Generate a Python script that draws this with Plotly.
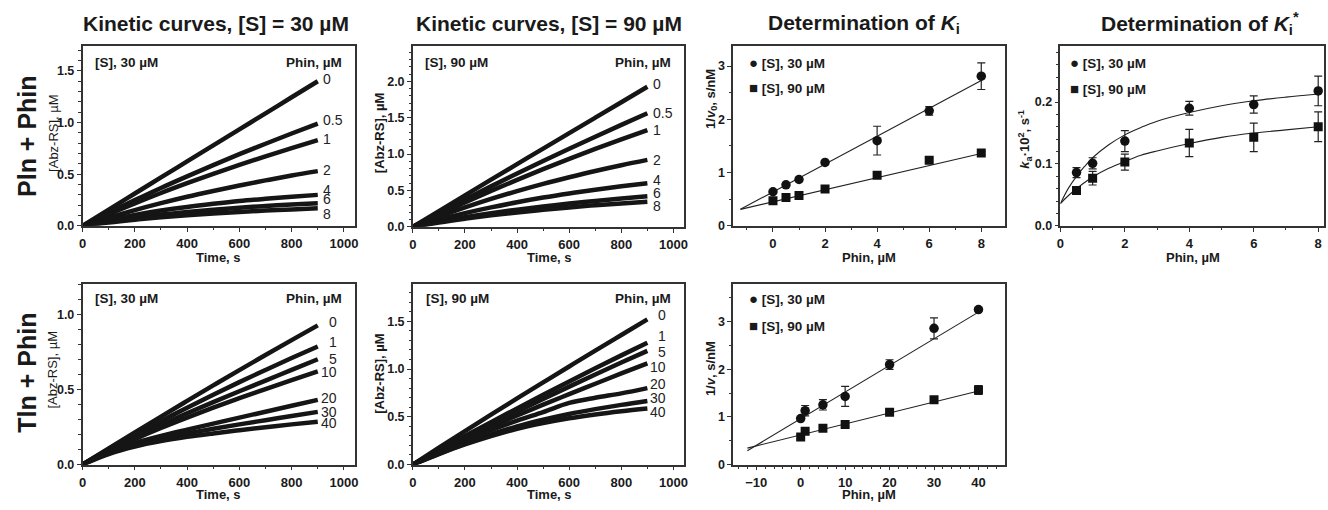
import plotly.graph_objects as go

W, H = 1328, 510
FONT = "Liberation Sans, Arial, sans-serif"

# ---------------- DATA ----------------
time_s = [0, 100, 200, 300, 400, 500, 600, 700, 800, 900]

# Pln + Phin, [S] = 30 uM
pln_phin = ["0", "0.5", "1", "2", "4", "6", "8"]
pln30_curves = [
    [0, 0.157, 0.313, 0.469, 0.624, 0.779, 0.934, 1.089, 1.245, 1.400],
    [0, 0.127, 0.249, 0.367, 0.479, 0.588, 0.694, 0.795, 0.894, 0.990],
    [0, 0.112, 0.217, 0.318, 0.413, 0.504, 0.590, 0.673, 0.753, 0.830],
    [0, 0.080, 0.153, 0.220, 0.282, 0.338, 0.391, 0.440, 0.487, 0.530],
    [0, 0.058, 0.106, 0.148, 0.183, 0.213, 0.240, 0.262, 0.282, 0.300],
    [0, 0.043, 0.078, 0.109, 0.135, 0.157, 0.176, 0.192, 0.207, 0.220],
    [0, 0.033, 0.060, 0.083, 0.103, 0.120, 0.135, 0.148, 0.159, 0.170],
]
# Pln + Phin, [S] = 90 uM
pln90_curves = [
    [0, 0.217, 0.433, 0.648, 0.862, 1.075, 1.288, 1.500, 1.712, 1.925],
    [0, 0.190, 0.375, 0.556, 0.732, 0.905, 1.074, 1.239, 1.401, 1.560],
    [0, 0.172, 0.336, 0.494, 0.646, 0.793, 0.934, 1.070, 1.202, 1.330],
    [0, 0.139, 0.266, 0.383, 0.491, 0.591, 0.682, 0.768, 0.847, 0.920],
    [0, 0.099, 0.188, 0.267, 0.338, 0.402, 0.459, 0.511, 0.557, 0.600],
    [0, 0.070, 0.132, 0.187, 0.236, 0.280, 0.320, 0.356, 0.389, 0.420],
    [0, 0.060, 0.112, 0.158, 0.198, 0.235, 0.267, 0.297, 0.322, 0.345],
]
# Tln + Phin
tln_phin = ["0", "1", "5", "10", "20", "30", "40"]
tln30_curves = [
    [0, 0.108, 0.214, 0.319, 0.423, 0.526, 0.628, 0.728, 0.827, 0.925],
    [0, 0.102, 0.198, 0.290, 0.378, 0.464, 0.548, 0.629, 0.708, 0.785],
    [0, 0.096, 0.183, 0.264, 0.341, 0.415, 0.487, 0.558, 0.629, 0.700],
    [0, 0.089, 0.169, 0.243, 0.312, 0.378, 0.441, 0.502, 0.562, 0.620],
    [0, 0.080, 0.142, 0.190, 0.232, 0.272, 0.312, 0.351, 0.391, 0.430],
    [0, 0.075, 0.130, 0.172, 0.207, 0.238, 0.267, 0.295, 0.323, 0.350],
    [0, 0.070, 0.120, 0.156, 0.184, 0.207, 0.228, 0.248, 0.267, 0.285],
]
tln90_curves = [
    [0, 0.176, 0.350, 0.522, 0.692, 0.860, 1.027, 1.193, 1.357, 1.520],
    [0, 0.150, 0.298, 0.444, 0.588, 0.730, 0.870, 1.008, 1.143, 1.276],
    [0, 0.145, 0.285, 0.422, 0.556, 0.687, 0.816, 0.943, 1.068, 1.190],
    [0, 0.138, 0.269, 0.394, 0.513, 0.627, 0.737, 0.846, 0.954, 1.060],
    [0, 0.125, 0.245, 0.360, 0.460, 0.550, 0.645, 0.700, 0.745, 0.800],
    [0, 0.115, 0.220, 0.315, 0.400, 0.470, 0.530, 0.580, 0.625, 0.666],
    [0, 0.110, 0.210, 0.298, 0.375, 0.435, 0.485, 0.525, 0.558, 0.586],
]

# Determination of Ki (Pln)
ki_phin = [0, 0.5, 1, 2, 4, 6, 8]
ki_inv_v0_30 = [0.64, 0.77, 0.87, 1.19, 1.60, 2.16, 2.81]
ki_err_30 = [0.02, 0.02, 0.02, 0.03, 0.27, 0.08, 0.25]
ki_inv_v0_90 = [0.47, 0.53, 0.57, 0.69, 0.95, 1.23, 1.37]
ki_err_90 = [0.02, 0.02, 0.02, 0.02, 0.03, 0.03, 0.03]
ki_fit_x = [-1.25, 8]
ki_fit_30 = [0.31, 2.73]
ki_fit_90 = [0.31, 1.36]

# Determination of Ki*
kst_phin = [0.5, 1, 2, 4, 6, 8]
ka_30 = [0.086, 0.101, 0.137, 0.190, 0.196, 0.218]
ka_err_30 = [0.008, 0.009, 0.017, 0.011, 0.014, 0.024]
ka_90 = [0.057, 0.077, 0.103, 0.134, 0.143, 0.160]
ka_err_90 = [0.003, 0.011, 0.013, 0.022, 0.023, 0.024]
ka_fit_x = [0, 0.25, 0.5, 0.75, 1, 1.5, 2, 2.5, 3, 4, 5, 6, 7, 8]
ka_fit_30 = [0.036, 0.061, 0.080, 0.096, 0.110, 0.131, 0.147, 0.159, 0.169, 0.183, 0.194, 0.202, 0.208, 0.213]
ka_fit_90 = [0.036, 0.049, 0.060, 0.070, 0.079, 0.093, 0.104, 0.114, 0.121, 0.133, 0.143, 0.150, 0.155, 0.160]

# Determination of Ki (Tln)
tv_phin = [0, 1, 5, 10, 20, 30, 40]
inv_v_30 = [0.966, 1.13, 1.255, 1.43, 2.10, 2.86, 3.255]
inv_v_err_30 = [0.03, 0.11, 0.11, 0.21, 0.10, 0.22, 0.03]
inv_v_90 = [0.58, 0.70, 0.76, 0.84, 1.10, 1.36, 1.565]
inv_v_err_90 = [0.05, 0.04, 0.03, 0.03, 0.03, 0.03, 0.09]
tv_fit_x = [-12, 40]
tv_fit_30 = [0.29, 3.20]
tv_fit_90 = [0.345, 1.545]

# ---------------- LAYOUT HELPERS ----------------
def pxx(x):
    return x / W

def pyy(y):
    return 1 - y / H

# panel boxes in pixels: (left, right, top, bottom)
boxes = {
    1: (79, 353, 47, 229),
    2: (411, 684, 47, 230),
    3: (733, 1006, 47, 229),
    4: (1062, 1327, 47, 229),
    5: (79, 353, 288, 471),
    6: (411, 684, 288, 471),
    7: (733, 1006, 288, 471),
}

LINEC = "#333333"


def axis(n, which, rng, dtick, minor, fmt=None):
    l, r, t, b = boxes[n]
    dom = [pxx(l), pxx(r)] if which == "x" else [pyy(b), pyy(t)]
    d = dict(
        domain=dom, range=rng, anchor=("y" if which == "x" else "x") + ("" if n == 1 else str(n)),
        showline=True, mirror=True, linecolor=LINEC, linewidth=1.5,
        ticks="outside", ticklen=4, tickwidth=1.3, tickcolor=LINEC,
        tick0=0, dtick=dtick, showgrid=False, zeroline=False,
        tickfont=dict(family=FONT, size=13 if which == "x" else 12.5,
                      color="#1a1a1a", weight="bold"),
        ticklabelstandoff=1 if which == "x" else 0,
    )
    if minor:
        d["minor"] = dict(dtick=minor, tick0=0, ticks="outside", ticklen=2.5,
                          tickwidth=1, tickcolor=LINEC, showgrid=False)
    if fmt:
        d["tickformat"] = fmt
    return d


fig = go.Figure()


def ref(n):
    s = "" if n == 1 else str(n)
    return "x" + s, "y" + s


def add_curves(n, curves):
    xa, ya = ref(n)
    for vals in curves:
        fig.add_trace(go.Scatter(
            x=time_s, y=vals, mode="lines", xaxis=xa, yaxis=ya,
            line=dict(color="#151515", width=4.5, shape="spline"),
            hoverinfo="skip", showlegend=False))


add_curves(1, pln30_curves)
add_curves(2, pln90_curves)
add_curves(5, tln30_curves)
add_curves(6, tln90_curves)


def add_points(n, x, y, err, symbol, size, fitx, fity):
    xa, ya = ref(n)
    fig.add_trace(go.Scatter(
        x=fitx, y=fity, mode="lines", xaxis=xa, yaxis=ya,
        line=dict(color="#222", width=1.1, shape="spline"), showlegend=False))
    fig.add_trace(go.Scatter(
        x=x, y=y, mode="markers", xaxis=xa, yaxis=ya,
        marker=dict(symbol=symbol, size=size, color="#111"),
        error_y=dict(type="data", array=err, color="#222", thickness=1.2, width=4),
        showlegend=False))


add_points(3, ki_phin, ki_inv_v0_30, ki_err_30, "circle", 9.5, ki_fit_x, ki_fit_30)
add_points(3, ki_phin, ki_inv_v0_90, ki_err_90, "square", 9, ki_fit_x, ki_fit_90)
add_points(4, kst_phin, ka_30, ka_err_30, "circle", 9.5, ka_fit_x, ka_fit_30)
add_points(4, kst_phin, ka_90, ka_err_90, "square", 9, ka_fit_x, ka_fit_90)
add_points(7, tv_phin, inv_v_30, inv_v_err_30, "circle", 9.5, tv_fit_x, tv_fit_30)
add_points(7, tv_phin, inv_v_90, inv_v_err_90, "square", 9, tv_fit_x, tv_fit_90)

layout = dict(
    width=W, height=H, margin=dict(l=0, r=0, t=0, b=0),
    paper_bgcolor="white", plot_bgcolor="white", showlegend=False,
    font=dict(family=FONT, color="#1a1a1a"),
)
layout["xaxis"] = axis(1, "x", [0, 1043], 200, 100)
layout["yaxis"] = axis(1, "y", [0, 1.738], 0.5, 0.1, ".1f")
layout["xaxis2"] = axis(2, "x", [0, 1042], 200, 100)
layout["yaxis2"] = axis(2, "y", [0, 2.48], 0.5, 0.1, ".1f")
layout["xaxis3"] = axis(3, "x", [-1.53, 8.9], 2, 1)
layout["yaxis3"] = axis(3, "y", [0, 3.37], 1, 0.5)
layout["xaxis4"] = axis(4, "x", [0, 8.18], 2, 1)
layout["yaxis4"] = axis(4, "y", [0, 0.29], 0.1, 0.02, ".1f")
layout["xaxis5"] = axis(5, "x", [0, 1043], 200, 100)
layout["yaxis5"] = axis(5, "y", [0, 1.20], 0.5, 0.1, ".1f")
layout["xaxis6"] = axis(6, "x", [0, 1042], 200, 100)
layout["yaxis6"] = axis(6, "y", [0, 1.89], 0.5, 0.1, ".1f")
layout["xaxis7"] = axis(7, "x", [-15.2, 45.9], 10, 2)
layout["yaxis7"] = axis(7, "y", [0, 3.79], 1, 0.5)
fig.update_layout(**layout)

ann = []


def text(x, y, s, size=13, bold=True, anchor="center", angle=0, color="#1a1a1a"):
    ann.append(dict(
        x=pxx(x), y=pyy(y), xref="paper", yref="paper", text=s, showarrow=False,
        xanchor=anchor, yanchor="middle", textangle=angle,
        font=dict(family=FONT, size=size, color=color, weight="bold" if bold else "normal")))


# column titles
text(213, 24, "Kinetic curves, [S] = 30 µM", 21)
text(548, 24, "Kinetic curves, [S] = 90 µM", 21)
text(865, 24, "Determination of <i>K</i><sub>i</sub>", 21)
text(1202, 24, "Determination of <i>K</i><sub>i</sub><sup>*</sup>", 21)

# row titles
text(23, 138, "Pln + Phin", 25, angle=-90)
text(23, 378, "Tln + Phin", 25, angle=-90)

# y axis titles
text(49, 135, "[Abz-RS], µM", 13, bold=False, angle=-90)
text(377, 135, "[Abz-RS], µM", 13, angle=-90)
text(49, 375, "[Abz-RS], µM", 13, bold=False, angle=-90)
text(378, 379, "[Abz-RS], µM", 13, angle=-90)
text(711, 100, "1/<i>v</i><sub>0</sub>, s/nM", 13, angle=-90)
text(1026, 141, "<i>k</i><sub>a</sub>·10<sup>2</sup>, s<sup>-1</sup>", 13, angle=-90)
text(711, 374, "1/<i>v</i>, s/nM", 13, angle=-90)

# x axis titles
text(216, 261, "Time, s", 13)
text(548, 261, "Time, s", 13)
text(870, 261, "Phin, µM", 13)
text(1195, 261, "Phin, µM", 13)
text(216, 501, "Time, s", 13)
text(548, 501, "Time, s", 13)
text(870, 501, "Phin, µM", 13)

# inside labels of kinetic panels
for (xl, xr, y) in [(89, 342, 63), (421, 673, 63), (89, 342, 303), (422, 673, 303)]:
    text(xl, y, "[S], %s µM" % ("30" if xl < 200 else "90"), 13.5, anchor="left")
    text(xr, y, "Phin, µM", 13.5, anchor="right")

# legends of the plots
CIRC = "<span style='font-size:15px'>●</span>"
SQR = "<span style='font-size:15px'>■</span>"
for (x0, y1, y2) in [(747, 63, 89), (1070, 63, 90), (747, 303, 330)]:
    text(x0, y1, CIRC + " [S], 30 µM", 13.5, anchor="left")
    text(x0, y2, SQR + " [S], 90 µM", 13.5, anchor="left")

fig.update_layout(annotations=ann)

# curve labels (inhibitor concentrations) next to the curve ends
shift_p1 = [2, 4, 1, 1.5, 4.5, 4, -6]
shift_p2 = [2.5, 0, 0, 0, 3.5, 3, -4]
shift_p5 = [3, 4, 0, -1, 2, 0, -1]
shift_p6 = [4, 7, -1, -4, 4, 3, -3]


def curve_labels(n, curves, labels, shifts, xpos, anchor):
    xa, ya = ref(n)
    for vals, lab, sh in zip(curves, labels, shifts):
        fig.add_annotation(x=xpos, y=vals[-1], xref=xa, yref=ya, text=lab,
                           showarrow=False, xanchor=anchor, yanchor="middle", yshift=sh,
                           font=dict(family=FONT, size=14, color="#222"))


curve_labels(1, pln30_curves, pln_phin, shift_p1, 914, "left")
curve_labels(2, pln90_curves, pln_phin, shift_p2, 914, "left")
curve_labels(5, tln30_curves, tln_phin, shift_p5, 983, "right")
curve_labels(6, tln90_curves, tln_phin, shift_p6, 981, "right")

fig.write_html("out.html", config={"displayModeBar": False},
               post_script="document.body.style.margin='0';document.body.style.overflow='hidden';")
